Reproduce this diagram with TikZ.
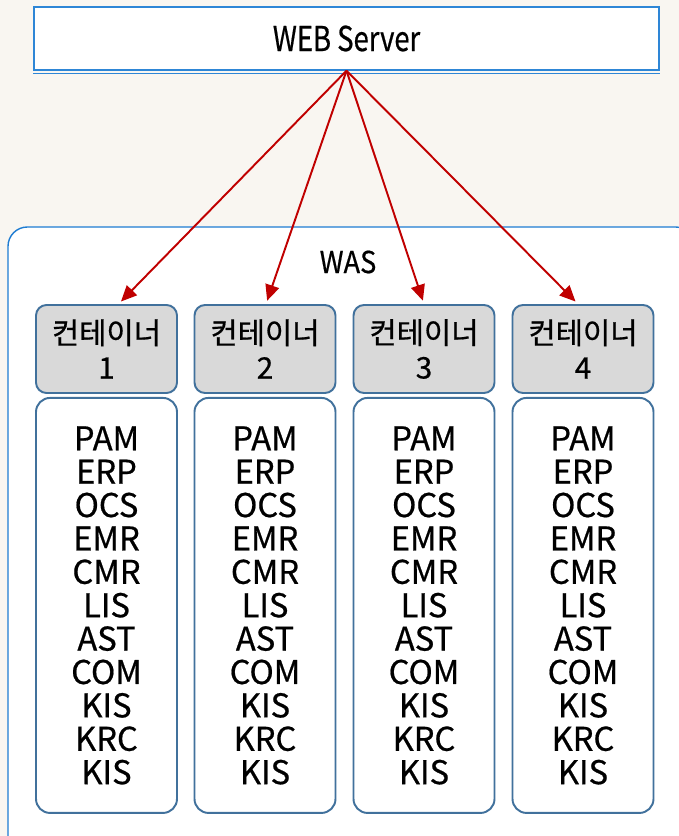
\documentclass[tikz,border=0pt]{standalone}
\usepackage{fontspec}
\setmainfont{Noto Sans CJK KR}[FakeBold=0.6]
\usetikzlibrary{arrows.meta, positioning}
\definecolor{webblue}{RGB}{46,134,214}
\definecolor{wasblue}{RGB}{30,124,210}
\definecolor{boxblue}{RGB}{65,113,156}
\definecolor{headgray}{RGB}{217,217,217}
\definecolor{linkred}{RGB}{192,0,0}
\definecolor{paper}{RGB}{249,246,241}
\tikzset{
    server/.style = {draw=webblue, thick, rectangle, fill=white, minimum width=12.5cm, minimum height=1.26cm, text centered},
    head/.style = {draw=boxblue, line width=1.1pt, rectangle, rounded corners=6pt, fill=headgray, minimum width=2.82cm, minimum height=1.76cm, align=center, font=\fontsize{16.9}{19.8}\selectfont},
    body/.style = {draw=boxblue, line width=1.1pt, rectangle, rounded corners=8pt, fill=white, minimum width=2.82cm, minimum height=8.3cm, align=center, font=\fontsize{18.6}{19}\selectfont},
    arrow/.style = {-{Triangle[length=9pt, width=8pt]}, linkred, line width=1.1pt}
}
\newcommand{\narrow}[3]{\scalebox{#1}[1]{\fontsize{#2}{#2}\selectfont #3}}

\begin{document}
\begin{tikzpicture}[x=1cm, y=-1cm]
    \clip (0,0) rectangle (13.58,16.72);
    \fill[paper] (0,0) rectangle (13.58,16.72);

    % WEB server
    \node[server] (web) at (6.93,0.77) {\narrow{0.8}{19.5}{WEB Server}};
    \draw[webblue, thick] ([yshift=-1.5pt]web.south west) -- ([yshift=-1.5pt]web.south east);

    % WAS area
    \draw[wasblue, thick, fill=white, rounded corners=11pt] (0.16,4.54) rectangle (13.9,17.2);
    \node (was) at (6.96,5.24) {\narrow{0.9}{17.2}{WAS}};

    % Containers
    \foreach \i/\x in {1/2.13, 2/5.30, 3/8.48, 4/11.66} {
        \node[head] (h\i) at (\x,6.98) {컨테이너\\\i};
        \node[body, below=0.06cm of h\i] (b\i) {PAM\\ERP\\OCS\\EMR\\CMR\\LIS\\AST\\COM\\KIS\\KRC\\KIS};
    }

    % Links
    \foreach \i/\dx in {1/0.24, 2/0.02, 3/0, 4/-0.1}
        \draw[arrow, shorten >=2pt] (web.south) -- ([xshift=\dx cm]h\i.north);

\end{tikzpicture}
\end{document}
